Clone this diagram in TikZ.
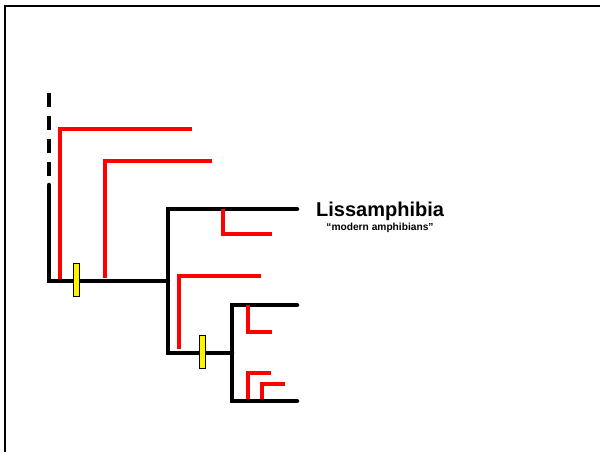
\documentclass[tikz,border=0pt]{standalone}
\usepackage{fontspec}
\setmainfont{Liberation Sans}

\begin{document}
\begin{tikzpicture}[x=1pt, y=-1pt,
  every node/.style={font=\bfseries, inner sep=0pt},
  clade/.style={line width=4.5pt, line cap=round},
  ghost/.style={red, line width=3.5pt},
  apo/.style={fill=yellow, draw=black, line width=0.8pt}]
\useasboundingbox (0,0) rectangle (600,452);
% frame
\draw[line width=2pt] (4.5,452) -- (4.5,6) -- (600,6);

% branch points
\coordinate (root) at (49,281);
\coordinate (tetra) at (168,281);
\coordinate (liss) at (168,209);
\coordinate (inner) at (168,353);
\coordinate (crown) at (232,353);

% stem, dashed where it runs back in time
\draw[line width=4.5pt, dash pattern=on 13.5pt off 9.5pt] (49,93) -- (49,176);
\draw[clade] (49,185) -- (root) -- (tetra);
\draw[clade] (297,209) -- (liss) -- (inner) -- (crown);
\draw[clade] (297,305) -- (232,305) -- (crown) -- (232,401) -- (297,401);

% extinct side lines
\draw[ghost] (60,279) -- (60,129) -- (192,129);
\draw[ghost] (105,278) -- (105,161) -- (212,161);
\draw[ghost] (223,209) -- (223,234) -- (272,234);
\draw[ghost] (179,349) -- (179,276) -- (261,276);
\draw[ghost] (248,305) -- (248,332) -- (272,332);
\draw[ghost] (248,399) -- (248,373) -- (271,373);
\draw[ghost] (262,399) -- (262,384) -- (285,384);

% characters
\draw[apo] (73,263) rectangle (79,296);
\draw[apo] (199.5,335) rectangle (205.5,368);

\node[anchor=base west, font=\bfseries\fontsize{20}{22}\selectfont] (lissname) at (316,216) {Lissamphibia};
\node[anchor=base, font=\bfseries\fontsize{10.2}{12}\selectfont] (modern) at (380,230.5) {“modern amphibians”};
\end{tikzpicture}
\end{document}
